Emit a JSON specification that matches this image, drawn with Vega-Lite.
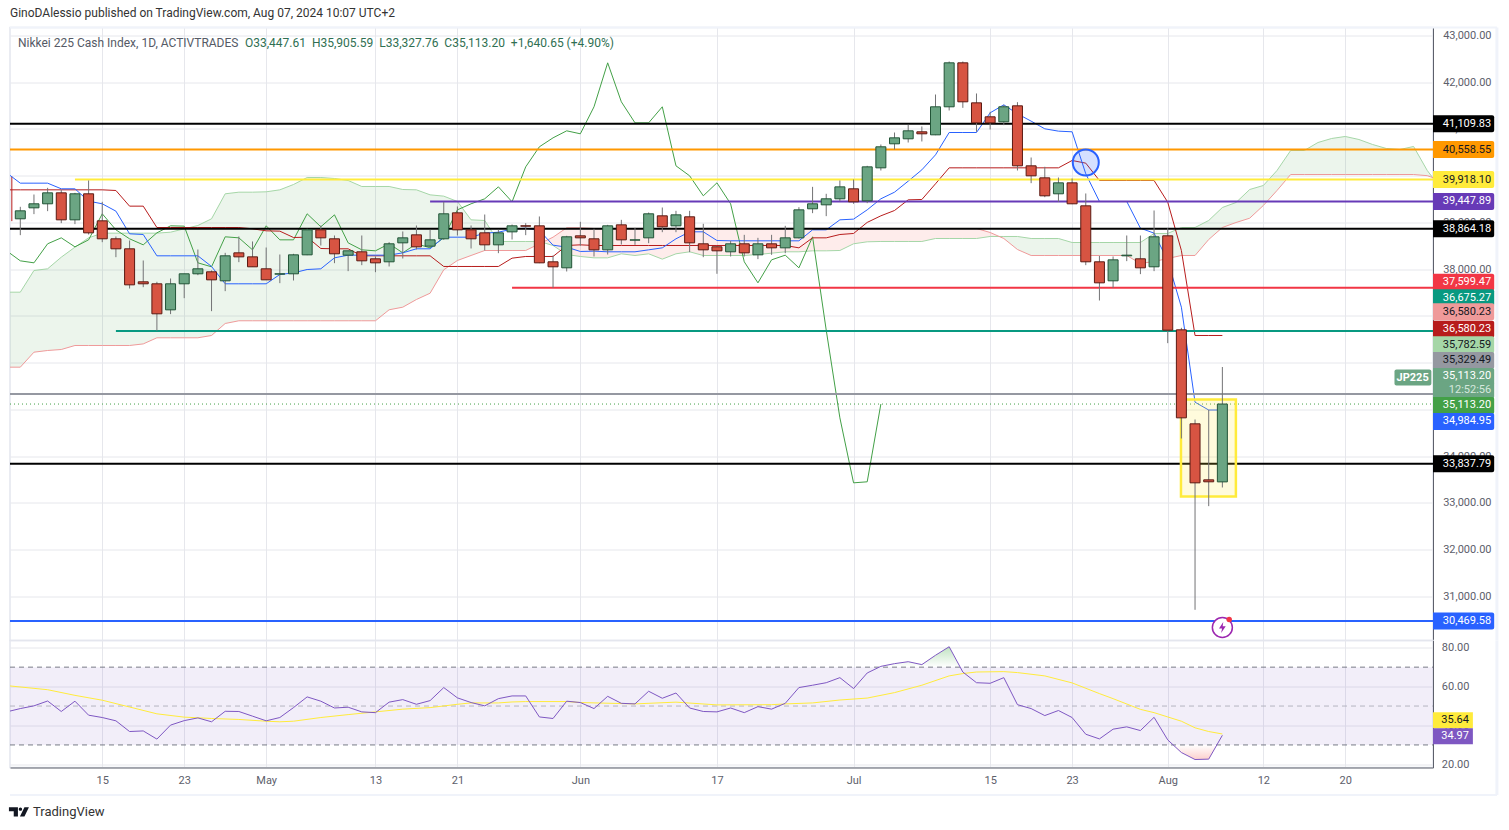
{
"$schema":"https://vega.github.io/schema/vega-lite/v6.json",
"background":"white",
"padding":{"left":8,"top":6.5,"right":5,"bottom":5},
"spacing":0,
"bounds":"flush",
"config":{"view":{"stroke":"#e4e6ee","strokeWidth":1.5},"font":"Roboto",
"axis":{"labelFont":"Roboto","labelFontSize":11,"labelColor":"#5d606b","gridColor":"#e6e7ec","gridWidth":1,"ticks":false,"labelOverlap":false,"labelBound":false,"labelFlush":false}},
"datasets":{
"candles":[
{"bar":0,"o":39077,"h":39334,"l":38727,"c":39248},
{"bar":1,"o":39312,"h":39597,"l":39177,"c":39398},
{"bar":2,"o":39398,"h":39740,"l":39241,"c":39633},
{"bar":3,"o":39633,"h":39697,"l":38984,"c":39055},
{"bar":4,"o":39055,"h":39633,"l":38963,"c":39612},
{"bar":5,"o":39612,"h":39897,"l":38741,"c":38777},
{"bar":6,"o":39034,"h":39441,"l":38577,"c":38649},
{"bar":7,"o":38649,"h":38699,"l":38256,"c":38435},
{"bar":8,"o":38435,"h":38613,"l":37586,"c":37664},
{"bar":9,"o":37729,"h":38185,"l":37614,"c":37686},
{"bar":10,"o":37686,"h":37729,"l":36680,"c":37044},
{"bar":11,"o":37129,"h":37800,"l":37037,"c":37686},
{"bar":12,"o":37686,"h":37900,"l":37379,"c":37900},
{"bar":13,"o":37900,"h":38420,"l":37871,"c":38007},
{"bar":14,"o":37943,"h":37971,"l":37101,"c":37771},
{"bar":15,"o":37750,"h":38349,"l":37529,"c":38285},
{"bar":16,"o":38349,"h":38699,"l":38149,"c":38263},
{"bar":17,"o":38263,"h":38592,"l":38050,"c":38050},
{"bar":18,"o":38007,"h":38463,"l":37771,"c":37771},
{"bar":19,"o":37893,"h":38313,"l":37700,"c":37900},
{"bar":20,"o":37900,"h":38328,"l":37757,"c":38306},
{"bar":21,"o":38306,"h":38863,"l":38299,"c":38841},
{"bar":22,"o":38841,"h":38934,"l":38506,"c":38670},
{"bar":23,"o":38649,"h":38720,"l":38128,"c":38328},
{"bar":24,"o":38299,"h":38392,"l":37957,"c":38392},
{"bar":25,"o":38371,"h":38720,"l":38085,"c":38178},
{"bar":26,"o":38221,"h":38271,"l":37935,"c":38135},
{"bar":27,"o":38157,"h":38577,"l":38057,"c":38542},
{"bar":28,"o":38563,"h":38806,"l":38228,"c":38670},
{"bar":29,"o":38734,"h":38934,"l":38420,"c":38477},
{"bar":30,"o":38492,"h":38841,"l":38470,"c":38627},
{"bar":31,"o":38649,"h":39440,"l":38627,"c":39184},
{"bar":32,"o":39205,"h":39341,"l":38720,"c":38841},
{"bar":33,"o":38841,"h":38934,"l":38442,"c":38649},
{"bar":34,"o":38777,"h":39169,"l":38399,"c":38520},
{"bar":35,"o":38520,"h":38841,"l":38342,"c":38777},
{"bar":36,"o":38798,"h":38955,"l":38634,"c":38927},
{"bar":37,"o":38927,"h":38984,"l":38727,"c":38920},
{"bar":38,"o":38927,"h":39127,"l":38128,"c":38135},
{"bar":39,"o":38157,"h":38292,"l":37600,"c":38050},
{"bar":40,"o":38028,"h":38713,"l":37950,"c":38692},
{"bar":41,"o":38713,"h":39013,"l":38499,"c":38670},
{"bar":42,"o":38649,"h":38863,"l":38271,"c":38413},
{"bar":43,"o":38413,"h":38948,"l":38313,"c":38927},
{"bar":44,"o":38948,"h":39055,"l":38527,"c":38627},
{"bar":45,"o":38620,"h":38884,"l":38520,"c":38627},
{"bar":46,"o":38670,"h":39212,"l":38556,"c":39184},
{"bar":47,"o":39141,"h":39319,"l":38791,"c":38906},
{"bar":48,"o":38927,"h":39248,"l":38791,"c":39162},
{"bar":49,"o":39120,"h":39248,"l":38363,"c":38563},
{"bar":50,"o":38542,"h":38970,"l":38256,"c":38413},
{"bar":51,"o":38478,"h":38485,"l":37900,"c":38392},
{"bar":52,"o":38371,"h":38606,"l":38271,"c":38542},
{"bar":53,"o":38542,"h":38734,"l":38271,"c":38349},
{"bar":54,"o":38306,"h":38670,"l":38214,"c":38542},
{"bar":55,"o":38542,"h":38734,"l":38306,"c":38456},
{"bar":56,"o":38456,"h":38927,"l":38342,"c":38670},
{"bar":57,"o":38670,"h":39326,"l":38656,"c":39269},
{"bar":58,"o":39291,"h":39761,"l":39198,"c":39398},
{"bar":59,"o":39376,"h":39612,"l":39134,"c":39505},
{"bar":60,"o":39505,"h":39897,"l":39455,"c":39761},
{"bar":61,"o":39719,"h":39918,"l":39398,"c":39441},
{"bar":62,"o":39462,"h":40211,"l":39412,"c":40189},
{"bar":63,"o":40168,"h":40667,"l":40111,"c":40618},
{"bar":64,"o":40682,"h":40924,"l":40561,"c":40810},
{"bar":65,"o":40789,"h":41088,"l":40710,"c":40960},
{"bar":66,"o":40939,"h":41053,"l":40732,"c":40896},
{"bar":67,"o":40874,"h":41737,"l":40867,"c":41474},
{"bar":68,"o":41474,"h":42444,"l":41395,"c":42415},
{"bar":69,"o":42415,"h":42444,"l":41452,"c":41581},
{"bar":70,"o":41559,"h":41759,"l":40939,"c":41131},
{"bar":71,"o":41260,"h":41367,"l":40988,"c":41131},
{"bar":72,"o":41153,"h":41516,"l":41081,"c":41474},
{"bar":73,"o":41495,"h":41573,"l":40111,"c":40211},
{"bar":74,"o":40211,"h":40389,"l":39840,"c":39997},
{"bar":75,"o":39954,"h":40190,"l":39540,"c":39569},
{"bar":76,"o":39612,"h":39961,"l":39441,"c":39847},
{"bar":77,"o":39847,"h":39940,"l":39391,"c":39398},
{"bar":78,"o":39355,"h":39619,"l":38085,"c":38157},
{"bar":79,"o":38157,"h":38285,"l":37329,"c":37707},
{"bar":80,"o":37750,"h":38271,"l":37600,"c":38199},
{"bar":81,"o":38285,"h":38720,"l":38171,"c":38299},
{"bar":82,"o":38221,"h":38720,"l":37893,"c":38028},
{"bar":83,"o":38050,"h":39255,"l":37957,"c":38692},
{"bar":84,"o":38713,"h":38877,"l":36416,"c":36694},
{"bar":85,"o":36701,"h":36744,"l":34376,"c":34818},
{"bar":86,"o":34690,"h":34782,"l":30710,"c":33427},
{"bar":87,"o":33491,"h":34989,"l":32928,"c":33449},
{"bar":88,"o":33447.61,"h":35905.59,"l":33327.76,"c":35113.2}
],
"ichi":[
{"bar":-1,"conv":40061,"base":39697,"lag":38392,"a":37507,"b":35902},
{"bar":0,"conv":39840,"base":39697,"lag":38178,"a":37507,"b":35902},
{"bar":1,"conv":39840,"base":39697,"lag":38135,"a":37971,"b":36223},
{"bar":2,"conv":39840,"base":39697,"lag":38542,"a":38007,"b":36259},
{"bar":3,"conv":39719,"base":39697,"lag":38670,"a":38256,"b":36280},
{"bar":4,"conv":39719,"base":39697,"lag":38477,"a":38470,"b":36366},
{"bar":5,"conv":39455,"base":39697,"lag":38627,"a":38670,"b":36366},
{"bar":6,"conv":39398,"base":39697,"lag":39184,"a":38770,"b":36366},
{"bar":7,"conv":39241,"base":39683,"lag":38841,"a":38770,"b":36366},
{"bar":8,"conv":38756,"base":39348,"lag":38649,"a":38770,"b":36366},
{"bar":9,"conv":38741,"base":39348,"lag":38520,"a":38770,"b":36400},
{"bar":10,"conv":38285,"base":38891,"lag":38777,"a":38770,"b":36531},
{"bar":11,"conv":38285,"base":38891,"lag":38927,"a":38791,"b":36531},
{"bar":12,"conv":38285,"base":38891,"lag":38920,"a":38863,"b":36531},
{"bar":13,"conv":38285,"base":38891,"lag":38135,"a":38934,"b":36531},
{"bar":14,"conv":38057,"base":38891,"lag":38050,"a":39077,"b":36580},
{"bar":15,"conv":37686,"base":38891,"lag":38692,"a":39612,"b":36837},
{"bar":16,"conv":37686,"base":38891,"lag":38670,"a":39647,"b":36895},
{"bar":17,"conv":37686,"base":38863,"lag":38413,"a":39647,"b":36895},
{"bar":18,"conv":37686,"base":38820,"lag":38927,"a":39655,"b":36895},
{"bar":19,"conv":37885,"base":38813,"lag":38627,"a":39697,"b":36895},
{"bar":20,"conv":37920,"base":38677,"lag":38627,"a":39811,"b":36895},
{"bar":21,"conv":37992,"base":38684,"lag":39184,"a":39961,"b":36895},
{"bar":22,"conv":38007,"base":38442,"lag":38906,"a":39961,"b":36895},
{"bar":23,"conv":38242,"base":38435,"lag":39162,"a":39940,"b":36895},
{"bar":24,"conv":38299,"base":38435,"lag":38563,"a":39897,"b":36895},
{"bar":25,"conv":38299,"base":38285,"lag":38413,"a":39769,"b":36895},
{"bar":26,"conv":38299,"base":38285,"lag":38392,"a":39769,"b":36895},
{"bar":27,"conv":38299,"base":38285,"lag":38542,"a":39769,"b":37130},
{"bar":28,"conv":38349,"base":38285,"lag":38349,"a":39704,"b":37186},
{"bar":29,"conv":38435,"base":38285,"lag":38542,"a":39697,"b":37350},
{"bar":30,"conv":38435,"base":38285,"lag":38456,"a":39590,"b":37485},
{"bar":31,"conv":38684,"base":38057,"lag":38670,"a":39562,"b":37986},
{"bar":32,"conv":38684,"base":38057,"lag":39269,"a":39448,"b":38185},
{"bar":33,"conv":38684,"base":38057,"lag":39398,"a":39055,"b":38292},
{"bar":34,"conv":38770,"base":38057,"lag":39505,"a":39041,"b":38399},
{"bar":35,"conv":38791,"base":38057,"lag":39761,"a":38592,"b":38399},
{"bar":36,"conv":38856,"base":38235,"lag":39441,"a":38592,"b":38399},
{"bar":37,"conv":38877,"base":38271,"lag":40189,"a":38592,"b":38399},
{"bar":38,"conv":38827,"base":38271,"lag":40618,"a":38592,"b":38542},
{"bar":39,"conv":38513,"base":38271,"lag":40810,"a":38506,"b":38684},
{"bar":40,"conv":38470,"base":38506,"lag":40960,"a":38313,"b":38885},
{"bar":41,"conv":38378,"base":38520,"lag":40896,"a":38271,"b":38885},
{"bar":42,"conv":38385,"base":38506,"lag":41474,"a":38242,"b":38870},
{"bar":43,"conv":38371,"base":38506,"lag":42415,"a":38242,"b":38870},
{"bar":44,"conv":38371,"base":38506,"lag":41581,"a":38328,"b":38870},
{"bar":45,"conv":38371,"base":38506,"lag":41131,"a":38292,"b":38870},
{"bar":46,"conv":38413,"base":38506,"lag":41131,"a":38328,"b":38870},
{"bar":47,"conv":38456,"base":38506,"lag":41474,"a":38214,"b":38870},
{"bar":48,"conv":38649,"base":38506,"lag":40211,"a":38328,"b":38870},
{"bar":49,"conv":38799,"base":38506,"lag":39997,"a":38371,"b":38870},
{"bar":50,"conv":38799,"base":38506,"lag":39569,"a":38292,"b":38870},
{"bar":51,"conv":38613,"base":38506,"lag":39847,"a":38292,"b":38870},
{"bar":52,"conv":38606,"base":38506,"lag":39398,"a":38292,"b":38870},
{"bar":53,"conv":38606,"base":38506,"lag":38157,"a":38292,"b":38870},
{"bar":54,"conv":38606,"base":38506,"lag":37707,"a":38313,"b":38870},
{"bar":55,"conv":38606,"base":38506,"lag":38199,"a":38342,"b":38870},
{"bar":56,"conv":38606,"base":38506,"lag":38299,"a":38371,"b":38870},
{"bar":57,"conv":38606,"base":38456,"lag":38028,"a":38371,"b":38870},
{"bar":58,"conv":38841,"base":38670,"lag":38692,"a":38392,"b":38870},
{"bar":59,"conv":38841,"base":38670,"lag":36694,"a":38392,"b":38870},
{"bar":60,"conv":39055,"base":38741,"lag":34818,"a":38399,"b":38870},
{"bar":61,"conv":39070,"base":38763,"lag":33427,"a":38542,"b":38870},
{"bar":62,"conv":39269,"base":39000,"lag":33449,"a":38585,"b":38870},
{"bar":63,"conv":39505,"base":39141,"lag":35113,"a":38592,"b":38870},
{"bar":64,"conv":39647,"base":39255,"a":38592,"b":38870},
{"bar":65,"conv":39883,"base":39483,"a":38592,"b":38870},
{"bar":66,"conv":40125,"base":39490,"a":38592,"b":38870},
{"bar":67,"conv":40446,"base":39826,"a":38656,"b":38870},
{"bar":68,"conv":40924,"base":40168,"a":38656,"b":38870},
{"bar":69,"conv":40924,"base":40168,"a":38656,"b":38870},
{"bar":70,"conv":40924,"base":40168,"a":38656,"b":38870},
{"bar":71,"conv":41345,"base":40168,"a":38699,"b":38784},
{"bar":72,"conv":41516,"base":40168,"a":38699,"b":38656},
{"bar":73,"conv":41324,"base":40168,"a":38699,"b":38420},
{"bar":74,"conv":41167,"base":40168,"a":38656,"b":38292},
{"bar":75,"conv":41003,"base":40168,"a":38656,"b":38292},
{"bar":76,"conv":40953,"base":40168,"a":38656,"b":38292},
{"bar":77,"conv":40939,"base":40325,"a":38570,"b":38292},
{"bar":78,"conv":40040,"base":40268,"a":38570,"b":38292},
{"bar":79,"conv":39448,"base":39897,"a":38570,"b":38292},
{"bar":80,"conv":39448,"base":39897,"a":38570,"b":38292},
{"bar":81,"conv":39448,"base":39897,"a":38570,"b":38292},
{"bar":82,"conv":38877,"base":39897,"a":38570,"b":38121},
{"bar":83,"conv":38770,"base":39897,"a":38763,"b":38164},
{"bar":84,"conv":38185,"base":39433,"a":38763,"b":38228},
{"bar":85,"conv":37186,"base":38399,"a":38891,"b":38292},
{"bar":86,"conv":35153,"base":36580,"a":38891,"b":38292},
{"bar":87,"conv":34985,"base":36580,"a":39041,"b":38634},
{"bar":88,"conv":34985,"base":36580,"a":39319,"b":38891},
{"bar":89,"a":39426,"b":38998},
{"bar":90,"a":39704,"b":39090},
{"bar":91,"a":39790,"b":39362},
{"bar":92,"a":40111,"b":39683},
{"bar":93,"a":40539,"b":40025},
{"bar":94,"a":40539,"b":40025},
{"bar":95,"a":40710,"b":40025},
{"bar":96,"a":40796,"b":40025},
{"bar":97,"a":40839,"b":40025},
{"bar":98,"a":40774,"b":40025},
{"bar":99,"a":40667,"b":40025},
{"bar":100,"a":40582,"b":40025},
{"bar":101,"a":40560,"b":40025},
{"bar":102,"a":40625,"b":40025},
{"bar":103,"a":40111,"b":40000},
{"bar":104,"a":39726,"b":39897}
],
"levels":[
{"kind":"res1","price":41109.83,"from":-0.754,"to":103.42},
{"kind":"res2","price":40558.55,"from":-0.754,"to":103.42},
{"kind":"res3","price":39918.1,"from":4,"to":103.42},
{"kind":"res4","price":39447.89,"from":30,"to":103.42},
{"kind":"res5","price":38864.18,"from":-0.754,"to":103.42},
{"kind":"res6","price":37599.47,"from":36,"to":103.42},
{"kind":"res7","price":36675.27,"from":7,"to":103.42},
{"kind":"res8","price":35329.49,"from":-0.754,"to":103.42},
{"kind":"sup1","price":33837.79,"from":-0.754,"to":103.42},
{"kind":"sup2","price":30469.58,"from":-0.754,"to":103.42}
],
"last":[{"price":35113.2,"from":-0.754,"to":103.42}],
"stub":[{"bar":-0.62,"lo":39027,"hi":39983}],
"zone":[{"from":84.97,"to":88.99,"lo":33135,"hi":35210}],
"spot":[{"bar":78,"price":40282}],
"event":[{"bar":88,"price":30331,"dotBar":88.5,"dotPrice":30502}],
"badge":[{"symbol":"JP225","from":100.6,"to":103.3,"mid":100.75,"price":35681}],
"tags":[
{"kind":"res1","label":"41,109.83","at":41109.83,"from":103.42,"to":107.9,"text":107.68},
{"kind":"res2","label":"40,558.55","at":40558.55,"from":103.42,"to":107.9,"text":107.68},
{"kind":"res3","label":"39,918.10","at":39918.1,"from":103.42,"to":107.9,"text":107.68},
{"kind":"res4","label":"39,447.89","at":39447.89,"from":103.42,"to":107.9,"text":107.68},
{"kind":"res5","label":"38,864.18","at":38864.18,"from":103.42,"to":107.9,"text":107.68},
{"kind":"res6","label":"37,599.47","at":37720,"from":103.42,"to":107.9,"text":107.68},
{"kind":"res7","label":"36,675.27","at":37387,"from":103.42,"to":107.9,"text":107.68},
{"kind":"lead2","label":"36,580.23","at":37087,"from":103.42,"to":107.9,"text":107.68},
{"kind":"base","label":"36,580.23","at":36715,"from":103.42,"to":107.9,"text":107.68},
{"kind":"lead1","label":"35,782.59","at":36381,"from":103.42,"to":107.9,"text":107.68},
{"kind":"res8","label":"35,329.49","at":36045,"from":103.42,"to":107.9,"text":107.68},
{"kind":"price","label":"35,113.20","at":35703,"from":103.42,"to":107.9,"text":107.68},
{"kind":"price","label":"12:52:56","at":35415,"from":103.42,"to":107.9,"text":107.68},
{"kind":"lagging","label":"35,113.20","at":35082,"from":103.42,"to":107.9,"text":107.68},
{"kind":"conv","label":"34,984.95","at":34740,"from":103.42,"to":107.9,"text":107.68},
{"kind":"sup1","label":"33,837.79","at":33837.79,"from":103.42,"to":107.9,"text":107.68},
{"kind":"sup2","label":"30,469.58","at":30469.58,"from":103.42,"to":107.9,"text":107.68}
],
"notes":[
{"kind":"byline","text":"GinoDAlessio published on TradingView.com, Aug 07, 2024 10:07 UTC+2","bar":-0.754,"price":43471},
{"kind":"head","text":"Nikkei 225 Cash Index, 1D, ACTIVTRADES","bar":-0.17,"price":42850},
{"kind":"vals","text":"O33,447.61\u00a0\u00a0H35,905.59\u00a0\u00a0L33,327.76\u00a0\u00a0C35,113.20\u00a0\u00a0+1,640.65 (+4.90%)","bar":16.45,"price":42850}
],
"frame":[{"left":-0.754,"right":108.1}],
"rsi":[
{"bar":-1,"rsi":47.0},{"bar":0,"rsi":48.7},{"bar":1,"rsi":50.1},{"bar":2,"rsi":52.6},{"bar":3,"rsi":47.2},{"bar":4,"rsi":52.5},{"bar":5,"rsi":45.3},{"bar":6,"rsi":44.1},{"bar":7,"rsi":42.4},{"bar":8,"rsi":36.9},{"bar":9,"rsi":37.2},{"bar":10,"rsi":33.0},{"bar":11,"rsi":40.2},{"bar":12,"rsi":42.5},{"bar":13,"rsi":43.9},{"bar":14,"rsi":41.9},{"bar":15,"rsi":47.3},{"bar":16,"rsi":47.2},{"bar":17,"rsi":44.8},{"bar":18,"rsi":42.4},{"bar":19,"rsi":44.1},{"bar":20,"rsi":49.2},{"bar":21,"rsi":54.7},{"bar":22,"rsi":52.5},{"bar":23,"rsi":49.0},{"bar":24,"rsi":49.4},{"bar":25,"rsi":47.0},{"bar":26,"rsi":46.6},{"bar":27,"rsi":52.0},{"bar":28,"rsi":53.3},{"bar":29,"rsi":50.9},{"bar":30,"rsi":52.8},{"bar":31,"rsi":59.5},{"bar":32,"rsi":54.2},{"bar":33,"rsi":51.8},{"bar":34,"rsi":50.1},{"bar":35,"rsi":53.8},{"bar":36,"rsi":55.2},{"bar":37,"rsi":55.2},{"bar":38,"rsi":44.4},{"bar":39,"rsi":43.6},{"bar":40,"rsi":52.5},{"bar":41,"rsi":51.8},{"bar":42,"rsi":48.7},{"bar":43,"rsi":55.0},{"bar":44,"rsi":51.4},{"bar":45,"rsi":51.1},{"bar":46,"rsi":57.6},{"bar":47,"rsi":54.0},{"bar":48,"rsi":56.7},{"bar":49,"rsi":49.0},{"bar":50,"rsi":47.2},{"bar":51,"rsi":47.0},{"bar":52,"rsi":49.0},{"bar":53,"rsi":46.6},{"bar":54,"rsi":49.7},{"bar":55,"rsi":48.4},{"bar":56,"rsi":51.4},{"bar":57,"rsi":59.5},{"bar":58,"rsi":60.7},{"bar":59,"rsi":62.0},{"bar":60,"rsi":64.6},{"bar":61,"rsi":59.0},{"bar":62,"rsi":67.0},{"bar":63,"rsi":70.4},{"bar":64,"rsi":71.8},{"bar":65,"rsi":72.8},{"bar":66,"rsi":71.3},{"bar":67,"rsi":76.1},{"bar":68,"rsi":80.5},{"bar":69,"rsi":67.5},{"bar":70,"rsi":62.0},{"bar":71,"rsi":61.7},{"bar":72,"rsi":64.6},{"bar":73,"rsi":50.7},{"bar":74,"rsi":48.7},{"bar":75,"rsi":45.1},{"bar":76,"rsi":47.7},{"bar":77,"rsi":44.1},{"bar":78,"rsi":35.5},{"bar":79,"rsi":33.1},{"bar":80,"rsi":38.1},{"bar":81,"rsi":39.3},{"bar":82,"rsi":37.4},{"bar":83,"rsi":44.2},{"bar":84,"rsi":32.6},{"bar":85,"rsi":26.1},{"bar":86,"rsi":22.5},{"bar":87,"rsi":22.7},{"bar":88,"rsi":34.97}
],
"rsiMa":[
{"bar":-1,"ma":60.5},{"bar":2,"ma":58.4},{"bar":4,"ma":55.5},{"bar":6,"ma":53.0},{"bar":8,"ma":49.5},{"bar":10,"ma":46.0},{"bar":12,"ma":44.3},{"bar":14,"ma":43.6},{"bar":16,"ma":43.1},{"bar":18,"ma":42.2},{"bar":19,"ma":41.9},{"bar":20,"ma":42.2},{"bar":22,"ma":44.1},{"bar":24,"ma":45.6},{"bar":26,"ma":47.0},{"bar":28,"ma":48.4},{"bar":30,"ma":49.2},{"bar":32,"ma":50.9},{"bar":33,"ma":51.6},{"bar":35,"ma":51.6},{"bar":36,"ma":52.1},{"bar":37,"ma":52.3},{"bar":40,"ma":52.3},{"bar":41,"ma":51.8},{"bar":45,"ma":51.1},{"bar":48,"ma":52.0},{"bar":51,"ma":50.6},{"bar":55,"ma":50.7},{"bar":56,"ma":51.1},{"bar":58,"ma":51.6},{"bar":60,"ma":53.1},{"bar":62,"ma":54.1},{"bar":64,"ma":56.9},{"bar":66,"ma":60.7},{"bar":68,"ma":65.5},{"bar":69,"ma":66.7},{"bar":70,"ma":67.5},{"bar":72,"ma":67.7},{"bar":73,"ma":67.2},{"bar":75,"ma":65.5},{"bar":77,"ma":61.9},{"bar":79,"ma":56.4},{"bar":80,"ma":53.8},{"bar":82,"ma":48.3},{"bar":83,"ma":46.6},{"bar":84,"ma":44.4},{"bar":85,"ma":42.2},{"bar":86,"ma":38.8},{"bar":87,"ma":36.9},{"bar":88,"ma":35.64}
],
"over":[{"bar":63,"rsi":70.4},{"bar":64,"rsi":71.8},{"bar":65,"rsi":72.8},{"bar":66,"rsi":71.3},{"bar":67,"rsi":76.1},{"bar":68,"rsi":80.5},{"bar":68.78,"rsi":70}],
"under":[{"bar":84.37,"rsi":30},{"bar":85,"rsi":26.1},{"bar":86,"rsi":22.5},{"bar":87,"rsi":22.7},{"bar":87.59,"rsi":30}],
"rsiBand":[{"from":-0.754,"to":103.42,"lo":30,"hi":70}],
"rsiLevels":[{"level":70},{"level":50},{"level":30}],
"rsiTags":[
{"kind":"ma","label":"35.64","at":42.7,"from":103.42,"to":106.34,"text":106.05},
{"kind":"rsi","label":"34.97","at":34.5,"from":103.42,"to":106.34,"text":106.05}
],
"footer":[{"bar":-0.1,"logo":-4.46,"textBar":0.93,"text":"TradingView"}]
},
"vconcat":[
{
"width":1423,"height":613,
"encoding":{"x":{"field":"bar","type":"quantitative","title":null,"scale":{"domain":[-0.754,103.42],"nice":false,"zero":false,"padding":0},
"axis":{"values":[6,12,18,26,32,41,51,61,71,77,84,91,97],"labels":false,"domain":false,"grid":true}}},
"layer":[
{"data":{"name":"frame"},"mark":{"type":"rule","color":"#f0f3fa","strokeWidth":2},"encoding":{"x":{"field":"left","type":"quantitative","title":null},"x2":{"field":"right"},"y":{"datum":43171,"title":null,"scale":{"domain":[30053,43171],"nice":false,"zero":false,"padding":0},"axis":{"orient":"right","values":[31000,32000,33000,34000,35000,36000,37000,38000,39000,40000,41000,42000,43000],"format":",.2f","labelAlign":"right","labelPadding":58,"grid":true,"domain":true,"domainColor":"#5d606b","title":null}}}},
{"data":{"name":"frame"},"mark":{"type":"rule","color":"#f0f3fa","strokeWidth":3},"encoding":{"x":{"field":"right","type":"quantitative","title":null}}},
{"data":{"name":"ichi"},"transform":[{"filter":"datum.bar<=38"}],"mark":{"type":"area","color":"#43A047","opacity":0.1,"clip":true},"encoding":{"y":{"field":"a","type":"quantitative","title":null},"y2":{"field":"b"}}},
{"data":{"name":"ichi"},"transform":[{"filter":"datum.bar>=38 && datum.bar<=72"}],"mark":{"type":"area","color":"#F44336","opacity":0.1,"clip":true},"encoding":{"y":{"field":"a","type":"quantitative","title":null},"y2":{"field":"b"}}},
{"data":{"name":"ichi"},"transform":[{"filter":"datum.bar>=72"}],"mark":{"type":"area","color":"#43A047","opacity":0.1,"clip":true},"encoding":{"y":{"field":"a","type":"quantitative","title":null},"y2":{"field":"b"}}},
{"data":{"name":"ichi"},"mark":{"type":"line","color":"#A5D6A7","strokeWidth":1,"clip":true},"encoding":{"y":{"field":"a","type":"quantitative","title":null}}},
{"data":{"name":"ichi"},"mark":{"type":"line","color":"#EF9A9A","strokeWidth":1,"clip":true},"encoding":{"y":{"field":"b","type":"quantitative","title":null}}},
{"data":{"name":"ichi"},"mark":{"type":"line","color":"#43A047","strokeWidth":1,"clip":true},"encoding":{"y":{"field":"lag","type":"quantitative","title":null}}},
{"data":{"name":"ichi"},"mark":{"type":"line","color":"#B71C1C","strokeWidth":1,"clip":true},"encoding":{"y":{"field":"base","type":"quantitative","title":null}}},
{"data":{"name":"stub"},"mark":{"type":"rule","color":"#B71C1C","strokeWidth":1},"encoding":{"y":{"field":"lo","type":"quantitative","title":null},"y2":{"field":"hi"}}},
{"data":{"name":"ichi"},"mark":{"type":"line","color":"#2962FF","strokeWidth":1,"clip":true},"encoding":{"y":{"field":"conv","type":"quantitative","title":null}}},
{"data":{"name":"levels"},"mark":{"type":"rule","strokeWidth":2},"encoding":{"x":{"field":"from","type":"quantitative","title":null},"x2":{"field":"to"},"y":{"field":"price","type":"quantitative","title":null},"color":{"field":"kind","type":"nominal","legend":null,"scale":{"domain":["res1","res2","res3","res4","res5","res6","res7","lead2","base","lead1","res8","price","lagging","conv","sup1","sup2","ma","rsi"],"range":["#000000","#FF9800","#FFEB3B","#673AB7","#000000","#F23645","#089981","#EF9A9A","#B71C1C","#A5D6A7","#9598A1","#6BA583","#43A047","#2962FF","#000000","#2962FF","#FFEB3B","#7E57C2"]}}}},
{"data":{"name":"last"},"mark":{"type":"rule","color":"#43A047","strokeWidth":1,"strokeDash":[1,3]},"encoding":{"x":{"field":"from","type":"quantitative","title":null},"x2":{"field":"to"},"y":{"field":"price","type":"quantitative","title":null}}},
{"data":{"name":"zone"},"mark":{"type":"rect","fill":"#FFEB3B","fillOpacity":0.18,"stroke":"#FFEB3B","strokeWidth":2.5},"encoding":{"x":{"field":"from","type":"quantitative","title":null},"x2":{"field":"to"},"y":{"field":"lo","type":"quantitative","title":null},"y2":{"field":"hi"}}},
{"data":{"name":"candles"},"mark":{"type":"rule","color":"#737375","strokeWidth":1},"encoding":{"y":{"field":"l","type":"quantitative","title":null},"y2":{"field":"h"}}},
{"data":{"name":"candles"},"mark":{"type":"bar","size":10,"orient":"vertical","strokeWidth":1},"encoding":{"y":{"field":"o","type":"quantitative","title":null},"y2":{"field":"c"},
"color":{"condition":{"test":"datum.c>=datum.o","value":"#6BA583"},"value":"#D75442"},
"stroke":{"condition":{"test":"datum.c>=datum.o","value":"#225437"},"value":"#5B1A13"}}},
{"data":{"name":"spot"},"mark":{"type":"point","shape":"circle","filled":true,"size":676,"fill":"#2962FF","fillOpacity":0.2,"stroke":"#2962FF","strokeOpacity":1,"strokeWidth":2},"encoding":{"y":{"field":"price","type":"quantitative","title":null}}},
{"data":{"name":"event"},"mark":{"type":"point","shape":"circle","filled":true,"size":400,"fill":"#ffffff","fillOpacity":1,"stroke":"#9C27B0","strokeOpacity":1,"strokeWidth":1.5},"encoding":{"y":{"field":"price","type":"quantitative","title":null}}},
{"data":{"name":"event"},"mark":{"type":"point","shape":"M0.15,-0.9 L-0.55,0.15 H-0.05 L-0.2,0.9 L0.55,-0.2 H0.05 Z","filled":true,"size":150,"fill":"#9C27B0","fillOpacity":1,"strokeWidth":0},"encoding":{"y":{"field":"price","type":"quantitative","title":null}}},
{"data":{"name":"event"},"mark":{"type":"point","shape":"circle","filled":true,"size":30,"fill":"#F23645","fillOpacity":1,"strokeWidth":0},"encoding":{"x":{"field":"dotBar","type":"quantitative","title":null},"y":{"field":"dotPrice","type":"quantitative","title":null}}},
{"data":{"name":"badge"},"mark":{"type":"bar","size":16,"orient":"horizontal","color":"#6BA583","cornerRadius":2},"encoding":{"x":{"field":"from","type":"quantitative","title":null},"x2":{"field":"to"},"y":{"field":"price","type":"quantitative","title":null}}},
{"data":{"name":"badge"},"mark":{"type":"text","align":"left","baseline":"middle","color":"#ffffff","fontSize":11,"fontWeight":"bold"},"encoding":{"x":{"field":"mid","type":"quantitative","title":null},"y":{"field":"price","type":"quantitative","title":null},"text":{"field":"symbol"}}},
{"data":{"name":"tags"},"mark":{"type":"bar","size":17,"orient":"horizontal","cornerRadiusBottomRight":2,"cornerRadiusTopRight":2},"encoding":{"x":{"field":"from","type":"quantitative","title":null},"x2":{"field":"to"},"y":{"field":"at","type":"quantitative","title":null},"color":{"field":"kind","type":"nominal","legend":null}}},
{"data":{"name":"tags"},"mark":{"type":"text","align":"right","baseline":"middle","fontSize":11},"encoding":{"x":{"field":"text","type":"quantitative","title":null},"y":{"field":"at","type":"quantitative","title":null},"text":{"field":"label"},
"color":{"condition":[{"test":"indexof(['res2','res3','lead2','lead1','res8'],datum.kind)>=0","value":"#131722"},{"test":"datum.label=='12:52:56'","value":"#d6e8dd"}],"value":"#ffffff"}}},
{"data":{"name":"notes"},"mark":{"type":"text","align":"left","baseline":"middle","fontSize":12},"encoding":{"y":{"field":"price","type":"quantitative","title":null},"text":{"field":"text"},
"color":{"condition":[{"test":"datum.kind=='byline'","value":"#333333"},{"test":"datum.kind=='head'","value":"#555a66"}],"value":"#2f6f52"}}}
]
},
{
"width":1423,"height":127,
"encoding":{"x":{"field":"bar","type":"quantitative","title":null,"scale":{"domain":[-0.754,103.42],"nice":false,"zero":false,"padding":0},
"axis":{"values":[6,12,18,26,32,41,51,61,71,77,84,91,97],"labelExpr":"{'6':'15','12':'23','18':'May','26':'13','32':'21','41':'Jun','51':'17','61':'Jul','71':'15','77':'23','84':'Aug','91':'12','97':'20'}[datum.value]","labelPadding":7,"grid":true,"domain":true,"domainColor":"#5d606b"}}},
"layer":[
{"data":{"name":"rsiBand"},"mark":{"type":"rect","color":"#7E57C2","opacity":0.1},"encoding":{"x":{"field":"from","type":"quantitative","title":null},"x2":{"field":"to"},"y":{"field":"lo","type":"quantitative","title":null,"scale":{"domain":[18.4,83.7],"nice":false,"zero":false,"padding":0},"axis":{"orient":"right","values":[20,40,60,80],"format":".2f","labelAlign":"right","labelPadding":36,"grid":true,"domain":true,"domainColor":"#5d606b","title":null}},"y2":{"field":"hi"}}},
{"data":{"name":"rsiLevels"},"mark":{"type":"rule","strokeWidth":1,"strokeDash":[5,4]},"encoding":{"x":{"value":0},"x2":{"value":1423},"y":{"field":"level","type":"quantitative","title":null},
"color":{"condition":{"test":"datum.level==50","value":"#b5b5c0"},"value":"#787B86"}}},
{"data":{"name":"over"},"mark":{"type":"area","clip":true,"color":{"x1":0,"y1":0,"x2":0,"y2":1,"gradient":"linear","stops":[{"offset":0,"color":"rgba(76,175,80,0.35)"},{"offset":1,"color":"rgba(76,175,80,0)"}]}},"encoding":{"y":{"field":"rsi","type":"quantitative","title":null},"y2":{"datum":70}}},
{"data":{"name":"under"},"mark":{"type":"area","clip":true,"color":{"x1":0,"y1":0,"x2":0,"y2":1,"gradient":"linear","stops":[{"offset":0,"color":"rgba(244,67,54,0)"},{"offset":1,"color":"rgba(244,67,54,0.25)"}]}},"encoding":{"y":{"field":"rsi","type":"quantitative","title":null},"y2":{"datum":30}}},
{"data":{"name":"rsiMa"},"mark":{"type":"line","color":"#FFEB3B","strokeWidth":1,"clip":true},"encoding":{"y":{"field":"ma","type":"quantitative","title":null}}},
{"data":{"name":"rsi"},"mark":{"type":"line","color":"#7E57C2","strokeWidth":1,"clip":true},"encoding":{"y":{"field":"rsi","type":"quantitative","title":null}}},
{"data":{"name":"rsiTags"},"mark":{"type":"bar","size":16,"orient":"horizontal"},"encoding":{"x":{"field":"from","type":"quantitative","title":null},"x2":{"field":"to"},"y":{"field":"at","type":"quantitative","title":null},"color":{"field":"kind","type":"nominal","legend":null}}},
{"data":{"name":"rsiTags"},"mark":{"type":"text","align":"right","baseline":"middle","fontSize":11},"encoding":{"x":{"field":"text","type":"quantitative","title":null},"y":{"field":"at","type":"quantitative","title":null},"text":{"field":"label"},"color":{"condition":{"test":"datum.kind=='ma'","value":"#131722"},"value":"#ffffff"}}},
{"data":{"name":"frame"},"mark":{"type":"rule","color":"#f0f3fa","strokeWidth":3},"encoding":{"x":{"field":"right","type":"quantitative","title":null},"y":{"datum":83.7,"title":null},"y2":{"datum":4.26}}},
{"data":{"name":"frame"},"mark":{"type":"rule","color":"#f0f3fa","strokeWidth":2},"encoding":{"x":{"field":"left","type":"quantitative","title":null},"x2":{"field":"right"},"y":{"datum":4.26,"title":null}}},
{"data":{"name":"frame"},"mark":{"type":"rule","color":"#5d606b","strokeWidth":1},"encoding":{"x":{"datum":103.42,"title":null},"y":{"datum":18.4,"title":null},"y2":{"datum":4.26}}},
{"data":{"name":"frame"},"mark":{"type":"rule","color":"#5d606b","strokeWidth":1},"encoding":{"x":{"datum":103.42,"title":null},"x2":{"field":"right"},"y":{"datum":18.4,"title":null}}},
{"data":{"name":"footer"},"mark":{"type":"point","shape":"M-1,-0.46 H-0.1 V0.46 H-0.52 V-0.06 H-1 Z M0.32,-0.28 A0.17,0.17 0 1 1 -0.02,-0.28 A0.17,0.17 0 1 1 0.32,-0.28 Z M0.55,-0.46 H1 L0.55,0.46 H0.1 Z","filled":true,"size":400,"fill":"#131722","fillOpacity":1,"strokeWidth":0},"encoding":{"y":{"field":"logo","type":"quantitative","title":null}}},
{"data":{"name":"footer"},"mark":{"type":"text","align":"left","baseline":"middle","fontSize":13,"color":"#333333"},"encoding":{"x":{"field":"textBar","type":"quantitative","title":null},"y":{"field":"logo","type":"quantitative","title":null},"text":{"field":"text"}}}
]
}
]
}
